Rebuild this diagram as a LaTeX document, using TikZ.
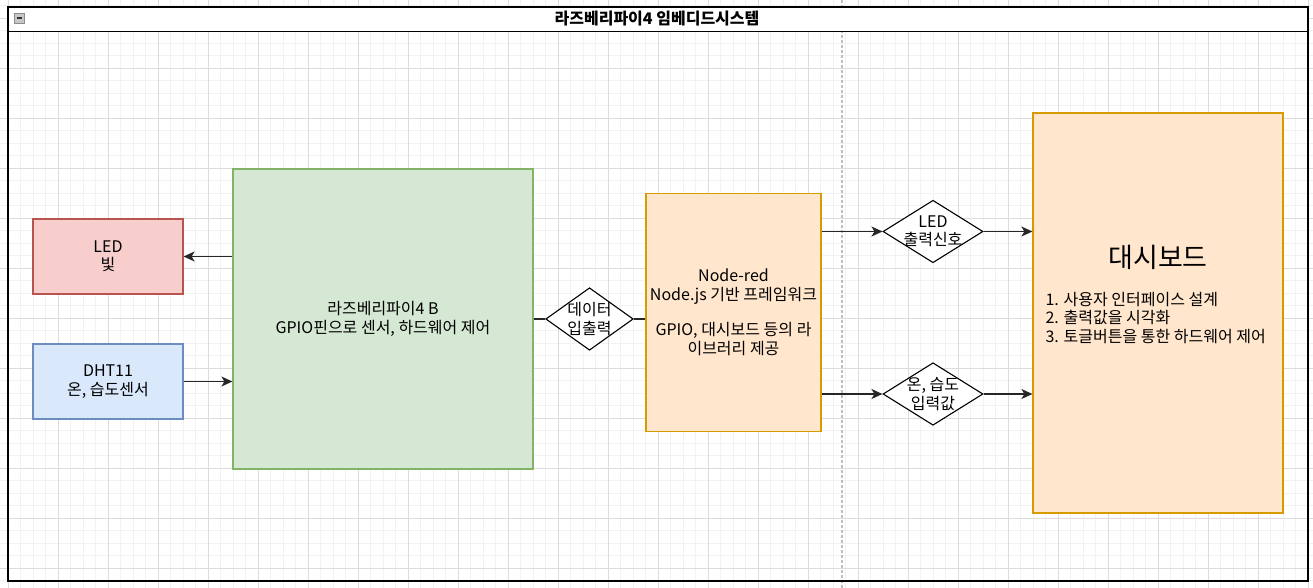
\documentclass[tikz,border=0pt]{standalone}
\usepackage{fontspec}
\setmainfont{Noto Sans CJK KR}
\usetikzlibrary{shapes.geometric,positioning,arrows.meta}

\definecolor{ledfill}{HTML}{F8CECC}
\definecolor{ledline}{HTML}{B85450}
\definecolor{dhtfill}{HTML}{DAE8FC}
\definecolor{dhtline}{HTML}{6C8EBF}
\definecolor{rpifill}{HTML}{D5E8D4}
\definecolor{rpiline}{HTML}{82B366}
\definecolor{orgfill}{HTML}{FFE6CC}
\definecolor{orgline}{HTML}{D79B00}
\definecolor{minorgrid}{HTML}{F2F2F2}
\definecolor{majorgrid}{HTML}{DCDCDC}

\begin{document}
\begin{tikzpicture}[
      x=1pt, y=-1pt,
      txt/.style={font=\fontsize{16}{18.5}\selectfont, align=center},
      block/.style={
        draw,
        rectangle,
        line width=1.2pt,
        inner sep=0pt,
        txt
      },
      decision/.style={
        draw,
        diamond,
        line width=1.1pt,
        fill=white,
        inner sep=0pt,
        minimum width=100pt,
        minimum height=62.5pt
      },
      wire/.style={line width=1.3pt, draw=black!85},
      >={Stealth[length=11pt,width=10pt,inset=3pt]}
    ]
    \useasboundingbox (0,0) rectangle (1313,588);
    \fill[white] (0,0) rectangle (1313,588);
    %% Grid
    \foreach \x in {-4.5,8,...,1320}
      \draw[minorgrid, line width=0.8pt] (\x,0) -- (\x,588);
    \foreach \y in {5.5,18,...,590}
      \draw[minorgrid, line width=0.8pt] (0,\y) -- (1313,\y);
    \foreach \x in {8,58,...,1320}
      \draw[majorgrid, line width=0.8pt] (\x,0) -- (\x,588);
    \foreach \y in {18,68,...,590}
      \draw[majorgrid, line width=0.8pt] (0,\y) -- (1313,\y);
    %% Page break
    \draw[black!25, line width=1.2pt, dash pattern=on 3pt off 2pt] (842,0) -- (842,588);
    %% Frame
    \fill[white] (8,7) rectangle (1308,31.5);
    \draw[line width=1.5pt] (8,7) rectangle (1308,581);
    \draw[line width=1.5pt] (8,31.5) -- (1308,31.5);
    \draw[black!45, fill=black!22, line width=0.6pt] (14,13) rectangle (24.5,23.5);
    \draw[black!80, line width=1.6pt] (16.5,18.3) -- (22,18.3);
    \node[txt, font=\fontsize{16}{18}\selectfont\bfseries] (title) at (657,19) {라즈베리파이4 임베디드시스템};
    %% Devices
    \node[block, fill=ledfill, draw=ledline, minimum width=150pt, minimum height=75pt]
      (led) at (108,256.5) {LED\\빛};
    \node[block, fill=dhtfill, draw=dhtline, minimum width=150pt, minimum height=75pt]
      (dht) at (108,381.5) {DHT11\\온, 습도센서};
    \node[block, fill=rpifill, draw=rpiline, minimum width=300pt, minimum height=300pt]
      (rpi) at (383,319) {라즈베리파이4 B\\GPIO핀으로 센서, 하드웨어 제어};
    %% Node-red
    \node[decision, minimum width=87.5pt, label={[txt]center:데이터\\입출력}]
      (io) at (589.5,319) {};
    \node[block, fill=orgfill, draw=orgline, minimum width=175pt, minimum height=237.5pt]
      (nodered) at (733.5,312.5) {Node-red\\Node.js 기반 프레임워크\\[17pt]GPIO, 대시보드 등의 라\\이브러리 제공};
    %% Signals
    \node[decision, label={[txt]center:LED\\출력신호}] (ledsig) at (933,231.5) {};
    \node[decision, label={[txt]center:온, 습도\\입력값}] (sense) at (933,394) {};
    %% Dashboard
    \node[block, fill=orgfill, draw=orgline, minimum width=250pt, minimum height=400pt]
      (dash) at (1158,313) {};
    \node[font=\fontsize{27}{30}\selectfont] (dash-title) at (1158,257) {대시보드};
    \node[txt, align=left, anchor=west, font=\fontsize{16}{18.5}\selectfont] (dash-list) at (1042,318)
      {1. 사용자 인터페이스 설계\\2. 출력값을 시각화\\3. 토글버튼을 통한 하드웨어 제어};
    %% Connectors
    \draw[wire, ->] (rpi.west |- led) -- (led.east);
    \draw[wire, ->] (dht.east) -- (rpi.west |- dht);
    \draw[wire] (rpi.east |- io) -- (io.west);
    \draw[wire] (io.east) -- (nodered.west |- io);
    \draw[wire, ->] (nodered.east |- ledsig) -- (ledsig.west);
    \draw[wire, ->] (ledsig.east) -- (dash.west |- ledsig);
    \draw[wire, ->] (nodered.east |- sense) -- (sense.west);
    \draw[wire, ->] (sense.east) -- (dash.west |- sense);
  \end{tikzpicture}
\end{document}
